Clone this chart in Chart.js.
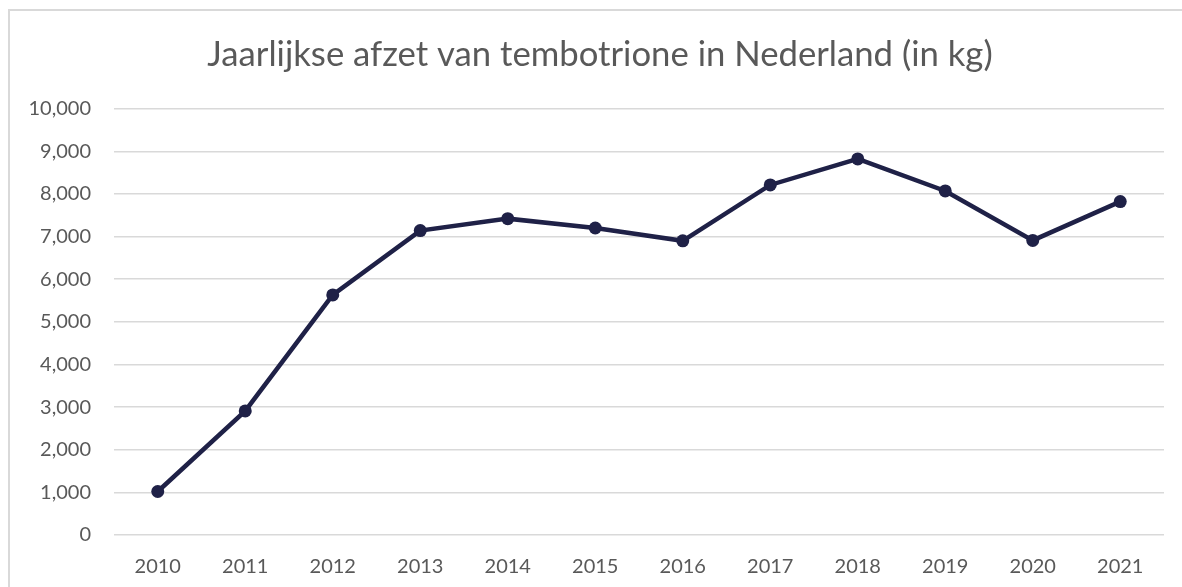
<!DOCTYPE html>
<html>
<head>
<meta charset="utf-8">
<script src="https://cdn.jsdelivr.net/npm/chart.js@4/dist/chart.umd.min.js"></script>
<style>
  html, body { margin: 0; padding: 0; background: #fff; width: 1182px; height: 587px; overflow: hidden; }
  #frame { position: absolute; left: 8px; top: 9px; width: 1190px; height: 600px; border-left: 2px solid #d9d9d9; border-top: 2px solid #d9d9d9; box-sizing: border-box; }
  #wrap { position: absolute; left: 8px; top: 10px; width: 1184px; height: 589px; }
</style>
</head>
<body>
<div id="frame"></div>
<div id="wrap"><canvas id="c" width="1184" height="589"></canvas></div>
<script>
const years = ["2010","2011","2012","2013","2014","2015","2016","2017","2018","2019","2020","2021"];
const afzetKg = [1020, 2910, 5630, 7140, 7420, 7200, 6900, 8210, 8820, 8070, 6910, 7820];
const chartTitle = "Jaarlijkse afzet van tembotrione in Nederland (in kg)";
const yMin = 0, yMax = 10000, yStep = 1000;

const textColor = "#595959";
const lineColor = "#1f2147";

// let the y tick labels use the space left of the axis box (no clipping)
const widenYLabelArea = {
  id: "widenYLabelArea",
  afterLayout(chart) { chart.scales.y.left = 0; }
};

new Chart(document.getElementById("c"), {
  type: "line",
  data: {
    labels: years,
    datasets: [{
      label: "Afzet (kg)",
      data: afzetKg,
      borderColor: lineColor,
      backgroundColor: lineColor,
      borderWidth: 4.5,
      pointRadius: 6.5,
      pointBackgroundColor: lineColor,
      pointBorderColor: lineColor,
      pointBorderWidth: 0,
      tension: 0,
      fill: false
    }]
  },
  plugins: [widenYLabelArea],
  options: {
    responsive: false,
    animation: false,
    devicePixelRatio: 1,
    layout: { padding: { left: 28, right: 28, top: 0, bottom: 0 } },
    plugins: {
      legend: { display: false },
      tooltip: { enabled: false },
      title: {
        display: true,
        text: chartTitle,
        color: textColor,
        font: { family: "Lato", size: 34.7, weight: "normal" },
        padding: { top: 24, bottom: 33 }
      }
    },
    scales: {
      x: {
        offset: true,
        grid: { display: false, drawTicks: false },
        border: { display: false },
        ticks: { color: textColor, font: { family: "Lato", size: 20 }, padding: 20, maxRotation: 0 }
      },
      y: {
        min: yMin, max: yMax,
        afterFit: (s) => { s.width = 78; },
        grid: { color: "#d9d9d9", lineWidth: 1.5, drawTicks: false },
        border: { display: false },
        ticks: {
          stepSize: yStep,
          color: textColor,
          font: { family: "Lato", size: 20 },
          padding: 23,
          callback: (v) => v.toLocaleString("en-US")
        }
      }
    }
  }
});
</script>
</body>
</html>
